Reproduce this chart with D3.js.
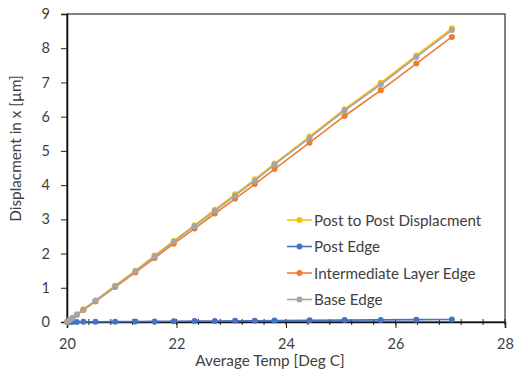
<!DOCTYPE html>
<html>
<head>
<meta charset="utf-8">
<script src="https://cdn.jsdelivr.net/npm/d3@7"></script>
<style>
  body { margin: 0; background: #fff; }
  text { font-family: Lato, "Open Sans", sans-serif; fill: #404040; }
</style>
</head>
<body>
<script>
// average temperature readings [Deg C]
const temps = [20, 20.05, 20.1, 20.18, 20.3, 20.52, 20.88, 21.25, 21.6, 21.95, 22.33,
  22.7, 23.07, 23.43, 23.79, 24.43, 25.07, 25.73, 26.38, 27.03];

const postToPost = [0, 0.06, 0.12, 0.22, 0.37, 0.63, 1.06, 1.5, 1.94, 2.37, 2.83,
  3.28, 3.73, 4.17, 4.63, 5.42, 6.22, 6.99, 7.79, 8.58];
const postEdge = [0, 0.001, 0.002, 0.003, 0.005, 0.008, 0.01, 0.015, 0.018, 0.022, 0.026,
  0.03, 0.034, 0.038, 0.042, 0.048, 0.055, 0.062, 0.068, 0.075];
const interLayer = [0, 0.06, 0.12, 0.21, 0.35, 0.6, 1.02, 1.45, 1.87, 2.29, 2.73,
  3.17, 3.6, 4.03, 4.47, 5.24, 6.02, 6.77, 7.55, 8.33];
const baseEdge = [0, 0.06, 0.12, 0.22, 0.36, 0.62, 1.05, 1.48, 1.92, 2.35, 2.8,
  3.25, 3.69, 4.13, 4.6, 5.38, 6.18, 6.94, 7.74, 8.53];

const seriesNames = ["Post to Post Displacment", "Post Edge", "Intermediate Layer Edge", "Base Edge"];
const seriesColors = ["#FFC000", "#4472C4", "#ED7D31", "#A5A5A5"];
const seriesValues = [postToPost, postEdge, interLayer, baseEdge];

const xTicks = [20, 22, 24, 26, 28];
const yTicks = [0, 1, 2, 3, 4, 5, 6, 7, 8, 9];

const width = 514, height = 370;
const margin = { top: 14, right: 9, bottom: 48, left: 67 };

const svg = d3.select("body").append("svg")
  .attr("width", width)
  .attr("height", height);

const x = d3.scaleLinear().domain([20, 28]).range([margin.left, width - margin.right]);
const y = d3.scaleLinear().domain([0, 9]).range([height - margin.bottom, margin.top]);

// plot border
svg.append("rect")
  .attr("x", x(20)).attr("y", y(9))
  .attr("width", x(28) - x(20)).attr("height", y(0) - y(9))
  .attr("fill", "none").attr("stroke", "#404040").attr("stroke-width", 1.3);

// minor x ticks
svg.append("g")
  .selectAll("line")
  .data(d3.range(20, 28.01, 0.4))
  .enter().append("line")
  .attr("x1", d => x(d)).attr("x2", d => x(d))
  .attr("y1", y(0) - 3).attr("y2", y(0) + 3)
  .attr("stroke", "#222").attr("stroke-width", 1);

// axes
const xAxis = svg.append("g")
  .attr("transform", `translate(0,${y(0)})`)
  .call(d3.axisBottom(x).tickValues(xTicks).tickSize(6).tickPadding(11));
const yAxis = svg.append("g")
  .attr("transform", `translate(${x(20)},0)`)
  .call(d3.axisLeft(y).tickValues(yTicks).tickSize(6).tickPadding(11));

[xAxis, yAxis].forEach(g => {
  g.select(".domain").attr("stroke", "#111").attr("stroke-width", 1.6);
  g.selectAll(".tick line").attr("stroke", "#222");
  g.selectAll(".tick text")
    .style("font-family", "Lato, sans-serif")
    .style("font-size", "14.5px")
    .attr("fill", "#404040");
});

// axis titles
svg.append("text")
  .attr("x", 270)
  .attr("y", 366)
  .attr("text-anchor", "middle")
  .style("font-size", "15.3px")
  .text("Average Temp [Deg C]");

svg.append("text")
  .attr("transform", "translate(21,148.5) rotate(-90)")
  .attr("text-anchor", "middle")
  .style("font-size", "15.3px")
  .text("Displacment in x [\u00b5m]");

// series
const line = d3.line().x(d => x(d[0])).y(d => y(d[1]));

seriesValues.forEach((vals, i) => {
  const pts = temps.map((t, j) => [t, vals[j]]);
  const g = svg.append("g");
  g.append("path")
    .datum(pts)
    .attr("d", line)
    .attr("fill", "none")
    .attr("stroke", seriesColors[i])
    .attr("stroke-width", 1.6);
  g.selectAll("circle")
    .data(pts)
    .enter().append("circle")
    .attr("cx", d => x(d[0]))
    .attr("cy", d => y(d[1]))
    .attr("r", 3)
    .attr("fill", seriesColors[i]);
});

// legend
const legend = svg.append("g");
seriesNames.forEach((name, i) => {
  const ly = 220 + i * 26.5;
  legend.append("line")
    .attr("x1", 287).attr("x2", 312)
    .attr("y1", ly).attr("y2", ly)
    .attr("stroke", seriesColors[i]).attr("stroke-width", 1.6);
  legend.append("circle")
    .attr("cx", 299.5).attr("cy", ly).attr("r", 3)
    .attr("fill", seriesColors[i]);
  legend.append("text")
    .attr("x", 314).attr("y", ly + 5.5)
    .style("font-size", "15.2px")
    .text(name);
});
</script>
</body>
</html>
